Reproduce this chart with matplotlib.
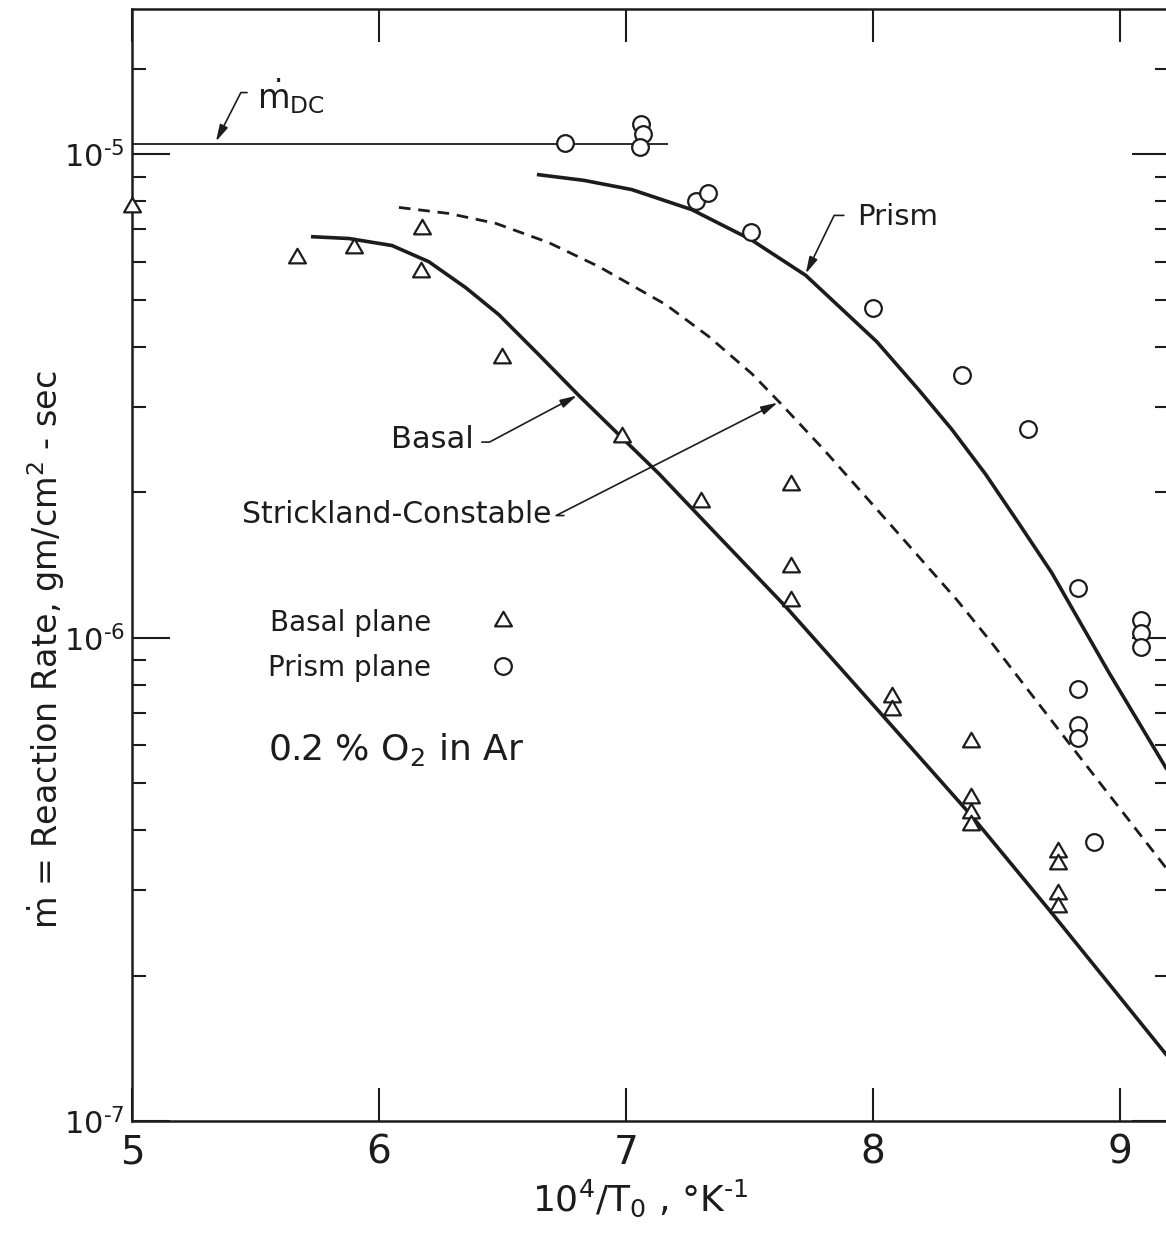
import matplotlib
matplotlib.use("Agg")
import matplotlib.pyplot as plt
from matplotlib.path import Path
from matplotlib.ticker import FixedLocator, NullLocator, NullFormatter

plt.rcParams['font.family'] = ['DejaVu Sans']
plt.rcParams['mathtext.default'] = 'regular'

INK = '#1c1c1c'
HY = '\u2010'  # short hyphen used in exponents, as in the hand lettering

# ---------------- data ----------------
# Basal plane measurements (triangles)
basal_x = [5.00, 5.668, 5.899, 6.174, 6.170, 6.498, 6.984, 7.304, 7.668, 7.668, 7.668,
           8.077, 8.077, 8.397, 8.397, 8.397, 8.397, 8.749, 8.749, 8.749, 8.749]
basal_y = [7.77e-6, 6.12e-6, 6.41e-6, 7.00e-6, 5.70e-6, 3.80e-6, 2.60e-6, 1.91e-6, 2.07e-6, 1.40e-6, 1.19e-6,
           7.55e-7, 7.10e-7, 6.09e-7, 4.67e-7, 4.34e-7, 4.10e-7, 3.61e-7, 3.40e-7, 2.95e-7, 2.77e-7]

# Prism plane measurements (circles)
prism_x = [6.753, 7.061, 7.069, 7.057, 7.283, 7.332, 7.506, 8.000, 8.360, 8.628, 8.830,
           9.085, 9.085, 9.085, 8.830, 8.830, 8.830, 8.895]
prism_y = [1.055e-5, 1.154e-5, 1.10e-5, 1.034e-5, 8.03e-6, 8.34e-6, 6.90e-6, 4.82e-6, 3.50e-6, 2.71e-6, 1.27e-6,
           1.089e-6, 1.023e-6, 9.58e-7, 7.84e-7, 6.61e-7, 6.21e-7, 3.77e-7]

# Curves
basal_curve_x = [5.725, 5.879, 6.053, 6.202, 6.352, 6.486, 6.648, 6.810, 6.984, 7.134, 7.377, 7.648,
                 8.045, 8.397, 8.725, 9.20]
basal_curve_y = [6.76e-6, 6.70e-6, 6.48e-6, 6.00e-6, 5.30e-6, 4.66e-6, 3.85e-6, 3.17e-6, 2.595e-6, 2.185e-6,
                 1.618e-6, 1.159e-6, 6.86e-7, 4.30e-7, 2.695e-7, 1.35e-7]

prism_curve_x = [6.640, 6.830, 7.024, 7.267, 7.506, 7.729, 8.016, 8.186, 8.320, 8.457, 8.590, 8.725,
                 8.955, 9.20]
prism_curve_y = [9.09e-6, 8.84e-6, 8.46e-6, 7.69e-6, 6.67e-6, 5.62e-6, 4.10e-6, 3.26e-6, 2.70e-6, 2.18e-6,
                 1.73e-6, 1.363e-6, 8.50e-7, 5.25e-7]

sc_curve_x = [6.081, 6.283, 6.474, 6.688, 6.891, 7.162, 7.336, 7.510, 7.628, 7.802, 8.065, 8.340, 8.482,
              8.794, 9.20]
sc_curve_y = [7.77e-6, 7.55e-6, 7.20e-6, 6.57e-6, 5.86e-6, 4.89e-6, 4.20e-6, 3.52e-6, 3.05e-6, 2.45e-6,
              1.73e-6, 1.199e-6, 9.76e-7, 6.06e-7, 3.28e-7]

# Diffusion-controlled limit
mdc_value = 1.05e-5
mdc_x = [5.0, 7.17]

# axes
xlim = (5.0, 9.2)
ylim = (1e-7, 2e-5)
xticks = [5, 6, 7, 8, 9]
xtick_labels = ['5', '6', '7', '8', '9']
yticks = [1e-7, 1e-6, 1e-5]
ytick_labels = [r'$10^{%s7}$' % HY, r'$10^{%s6}$' % HY, r'$10^{%s5}$' % HY]
yminor = [1.5e-5] + [k * 1e-6 for k in range(2, 10)] + [k * 1e-7 for k in range(2, 10)]

# ---------------- figure ----------------
W, H = 1166, 1235
fig = plt.figure(figsize=(W / 100, H / 100), dpi=100)
fig.patch.set_facecolor('white')
left_px, right_px, top_px, bot_px = 132, 1169, 9, 1121
ax = fig.add_axes([left_px / W, 1 - bot_px / H, (right_px - left_px) / W, (bot_px - top_px) / H])
ax.set_yscale('log')
ax.set_xlim(*xlim)
ax.set_ylim(*ylim)

for s in ax.spines.values():
    s.set_linewidth(1.8)
    s.set_color(INK)

ax.set_xticks(xticks)
ax.set_xticklabels(xtick_labels)
ax.xaxis.set_minor_locator(NullLocator())
ax.set_yticks(yticks)
ax.set_yticklabels(ytick_labels)
ax.yaxis.set_minor_locator(FixedLocator(yminor))
ax.yaxis.set_minor_formatter(NullFormatter())

ax.tick_params(which='both', direction='in', top=True, right=True, width=1.5, color=INK, labelcolor=INK)
ax.tick_params(axis='x', which='major', length=24, pad=9, labelsize=28)
ax.tick_params(axis='y', which='major', length=27, pad=5, labelsize=22)
ax.tick_params(axis='y', which='minor', length=10)

# curves
ax.plot(basal_curve_x, basal_curve_y, color=INK, lw=2.6, solid_capstyle='butt',
        solid_joinstyle='round', zorder=3)
ax.plot(prism_curve_x, prism_curve_y, color=INK, lw=2.6, solid_capstyle='butt',
        solid_joinstyle='round', zorder=3)
ax.plot(sc_curve_x, sc_curve_y, color=INK, lw=2.0, dashes=(4.2, 2.8), zorder=3)
ax.hlines(mdc_value, mdc_x[0], mdc_x[1], color=INK, lw=1.3, zorder=3)

# markers
tri = Path([(-1, -0.577), (1, -0.577), (0, 1.155), (-1, -0.577)],
           [Path.MOVETO, Path.LINETO, Path.LINETO, Path.CLOSEPOLY])
ax.plot(basal_x, basal_y, ls='none', marker=tri, ms=14, mfc='white', mec=INK, mew=1.6,
        zorder=5, clip_on=False, label='Basal plane')
ax.plot(prism_x, prism_y, ls='none', marker='o', ms=12, mfc='white', mec=INK, mew=1.6,
        zorder=5, clip_on=False, label='Prism plane')

leg = ax.legend(loc='upper left', bbox_to_anchor=(0.131, 0.4606), frameon=False, markerfirst=False,
                fontsize=20, handlelength=1.0, handletextpad=2.1, labelspacing=0.62,
                borderpad=0, borderaxespad=0)
for t in leg.get_texts():
    t.set_color(INK)

ax.text(0.131, 0.3250, r'0.2 % O$_2$ in Ar', transform=ax.transAxes, fontsize=26,
        ha='left', va='baseline', color=INK)

# annotations
arrow_kw = dict(color=INK, lw=1.2, shrinkA=0, shrinkB=0, mutation_scale=20)

ax.text(5.506, 1.318e-5, r'$\dot{m}_{DC}$', fontsize=24, ha='left', va='center', color=INK)
ax.annotate('', xy=(5.340, 1.064e-5), xytext=(5.466, 1.343e-5),
            arrowprops=dict(arrowstyle='-|>,head_length=0.5,head_width=0.13',
                            connectionstyle='angle,angleA=0,angleB=63,rad=0', **arrow_kw))

ax.text(7.935, 7.41e-6, 'Prism', fontsize=21, ha='left', va='center', color=INK)
ax.annotate('', xy=(7.729, 5.67e-6), xytext=(7.883, 7.48e-6),
            arrowprops=dict(arrowstyle='-|>,head_length=0.5,head_width=0.13',
                            connectionstyle='angle,angleA=0,angleB=64,rad=0', **arrow_kw))

ax.text(6.385, 2.57e-6, 'Basal', fontsize=22, ha='right', va='center', color=INK)
ax.annotate('', xy=(6.802, 3.17e-6), xytext=(6.417, 2.54e-6),
            arrowprops=dict(arrowstyle='-|>,head_length=0.5,head_width=0.13',
                            connectionstyle='angle,angleA=0,angleB=28,rad=0', **arrow_kw))

ax.text(6.700, 1.80e-6, 'Strickland-Constable', fontsize=21.5, ha='right', va='center', color=INK)
ax.annotate('', xy=(7.615, 3.065e-6), xytext=(6.749, 1.79e-6),
            arrowprops=dict(arrowstyle='-|>,head_length=0.5,head_width=0.13',
                            connectionstyle='angle,angleA=0,angleB=27,rad=0', **arrow_kw))

# axis labels
fig.text(46 / W, 1 - 650 / H, r'$\dot{m}$ = Reaction Rate, gm/cm$^2$ - sec', rotation=90,
         ha='center', va='center', fontsize=24, color=INK)
fig.text(640 / W, 1 - 1198 / H, r'10$^4$/T$_0$ , °K$^{%s1}$' % HY, ha='center', va='center',
         fontsize=26, color=INK)

fig.savefig('out.png', dpi=100, facecolor='white')
